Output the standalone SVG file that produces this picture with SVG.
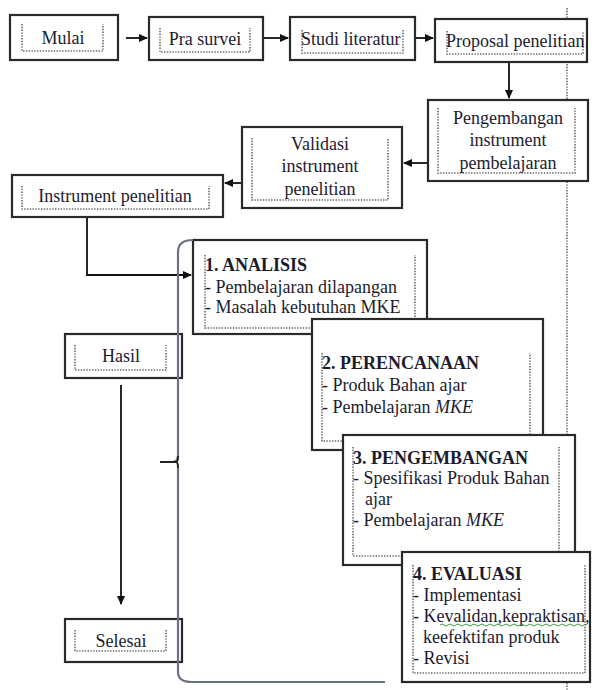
<svg xmlns="http://www.w3.org/2000/svg" width="596" height="690" viewBox="0 0 596 690">
<defs>
<marker id="ah" markerWidth="9" markerHeight="8" refX="8" refY="4" orient="auto" markerUnits="userSpaceOnUse">
<path d="M0,0 L9,4 L0,8 Z" fill="#111"/>
</marker>
<style>
.box{fill:#fff;stroke:#2a2a2a;stroke-width:2.2}
.dot{fill:none;stroke:#6a6a6a;stroke-width:1.6;stroke-dasharray:1.4 1.4}
.t{font-family:"Liberation Serif","Times New Roman",serif;font-size:18px;fill:#1c1c30}
.c{text-anchor:middle}
.b{font-weight:bold}
.i{font-style:italic}
.ln{fill:none;stroke:#111;stroke-width:1.8}
.brace{fill:none;stroke:#6b7282;stroke-width:2.2}
</style>
</defs>
<rect width="596" height="690" fill="#fff"/>
<line x1="567" y1="8" x2="567" y2="690" class="dot"/>

<g id="mulai">
<rect class="box" x="10" y="15" width="108" height="45"/>
<path class="dot" d="M22,24 V51 H103 V24"/>
<text class="t c" x="63" y="44">Mulai</text>
</g>
<g id="pra-survei">
<rect class="box" x="149" y="17" width="114" height="43"/>
<path class="dot" d="M160,28 V52 H250 V28"/>
<text class="t c" x="205" y="45">Pra survei</text>
</g>
<g id="studi-literatur">
<rect class="box" x="290" y="17" width="125" height="43"/>
<path class="dot" d="M302,30 V53 H403 V30"/>
<text class="t" x="301" y="45">Studi literatur</text>
</g>
<g id="proposal">
<rect class="box" x="435" y="19" width="152" height="43"/>
<path class="dot" d="M447,31 V54 H583 V31"/>
<text class="t" x="446" y="47">Proposal penelitian</text>
</g>
<g id="pengembangan-instrument">
<rect class="box" x="428" y="100" width="160" height="81"/>
<path class="dot" d="M438,108 V173 H575 V108"/>
<text class="t c" x="508" y="124">Pengembangan</text>
<text class="t c" x="508" y="146">instrument</text>
<text class="t c" x="508" y="169">pembelajaran</text>
</g>
<g id="validasi">
<rect class="box" x="242" y="127" width="160" height="81"/>
<path class="dot" d="M252,138 V200 H388 V138"/>
<text class="t c" x="320" y="150">Validasi</text>
<text class="t c" x="320" y="172">instrument</text>
<text class="t c" x="320" y="195">penelitian</text>
</g>
<g id="instrument-penelitian">
<rect class="box" x="12" y="175" width="211" height="42"/>
<path class="dot" d="M22,186 V209 H209 V186"/>
<text class="t c" x="115" y="202">Instrument penelitian</text>
</g>
<g id="hasil">
<rect class="box" x="65" y="334" width="117" height="44"/>
<path class="dot" d="M75,345 V370 H166 V345"/>
<text class="t c" x="121" y="362">Hasil</text>
</g>
<g id="selesai">
<rect class="box" x="65" y="619" width="117" height="43"/>
<path class="dot" d="M75,630 V651 H166 V630"/>
<text class="t c" x="121" y="647">Selesai</text>
</g>

<g id="analisis">
<rect class="box" x="193" y="240" width="234" height="94"/>
<path class="dot" d="M205,255 V328 H415 V255"/>
<text class="t b" x="205" y="271">1. ANALISIS</text>
<text class="t" x="205" y="293">- Pembelajaran dilapangan</text>
<text class="t" x="205" y="313">- Masalah kebutuhan MKE</text>
</g>
<g id="perencanaan">
<rect class="box" x="312" y="319" width="231" height="131"/>
<path class="dot" d="M322,353 V441 H530 V353"/>
<text class="t b" x="322" y="369">2. PERENCANAAN</text>
<text class="t" x="322" y="391">- Produk Bahan ajar</text>
<text class="t" x="322" y="413">- Pembelajaran <tspan class="i">MKE</tspan></text>
</g>
<g id="pengembangan">
<rect class="box" x="343" y="435" width="232" height="130"/>
<path class="dot" d="M353,447 V556 H559 V447"/>
<text class="t b" x="353" y="464">3. PENGEMBANGAN</text>
<text class="t" x="353" y="484">- Spesifikasi Produk Bahan</text>
<text class="t" x="365" y="505">ajar</text>
<text class="t" x="353" y="526">- Pembelajaran <tspan class="i">MKE</tspan></text>
</g>
<g id="evaluasi">
<rect class="box" x="402" y="552" width="188" height="130"/>
<path class="dot" d="M413,565 V673 H585 V565"/>
<text class="t b" x="413" y="580">4. EVALUASI</text>
<text class="t" x="413" y="601">- Implementasi</text>
<text class="t" x="413" y="622">- Kevalidan,kepraktisan,</text>
<path d="M440,625 q2,-2 4,0 t4,0 t4,0 t4,0 t4,0 t4,0 t4,0 t4,0 t4,0 t4,0 t4,0 t4,0 t4,0 t4,0 t4,0 t4,0 t4,0 t4,0 t4,0 t4,0 t4,0 t4,0 t4,0 t4,0 t4,0 t4,0 t4,0 t4,0 t4,0 t4,0 t4,0 t4,0 t4,0 t4,0 t4,0 t4,0" fill="none" stroke="#3aa040" stroke-width="1"/>
<text class="t" x="423" y="643">keefektifan produk</text>
<text class="t" x="413" y="664">- Revisi</text>
</g>

<g id="connectors">
<line class="ln" x1="126" y1="38" x2="147" y2="38" marker-end="url(#ah)"/>
<line class="ln" x1="264" y1="38" x2="288" y2="38" marker-end="url(#ah)"/>
<line class="ln" x1="416" y1="38" x2="433" y2="38" marker-end="url(#ah)"/>
<line class="ln" x1="509" y1="63" x2="509" y2="98" marker-end="url(#ah)"/>
<line class="ln" x1="427" y1="163" x2="404" y2="163" marker-end="url(#ah)"/>
<line class="ln" x1="241" y1="183" x2="225" y2="183" marker-end="url(#ah)"/>
<polyline class="ln" points="87,218 87,275 191,275" marker-end="url(#ah)"/>
<line class="ln" x1="121" y1="385" x2="121" y2="604" marker-end="url(#ah)"/>
<path class="brace" d="M193,240 Q178,240 178,252 V456 Q178,462 172,462 M178,468 V672 Q178,682 192,682 H385"/>
<path d="M160,462 H176 Q178,462 178,456 M176,462 Q178,462 178,468" fill="none" stroke="#222" stroke-width="2"/>
</g>
</svg>
